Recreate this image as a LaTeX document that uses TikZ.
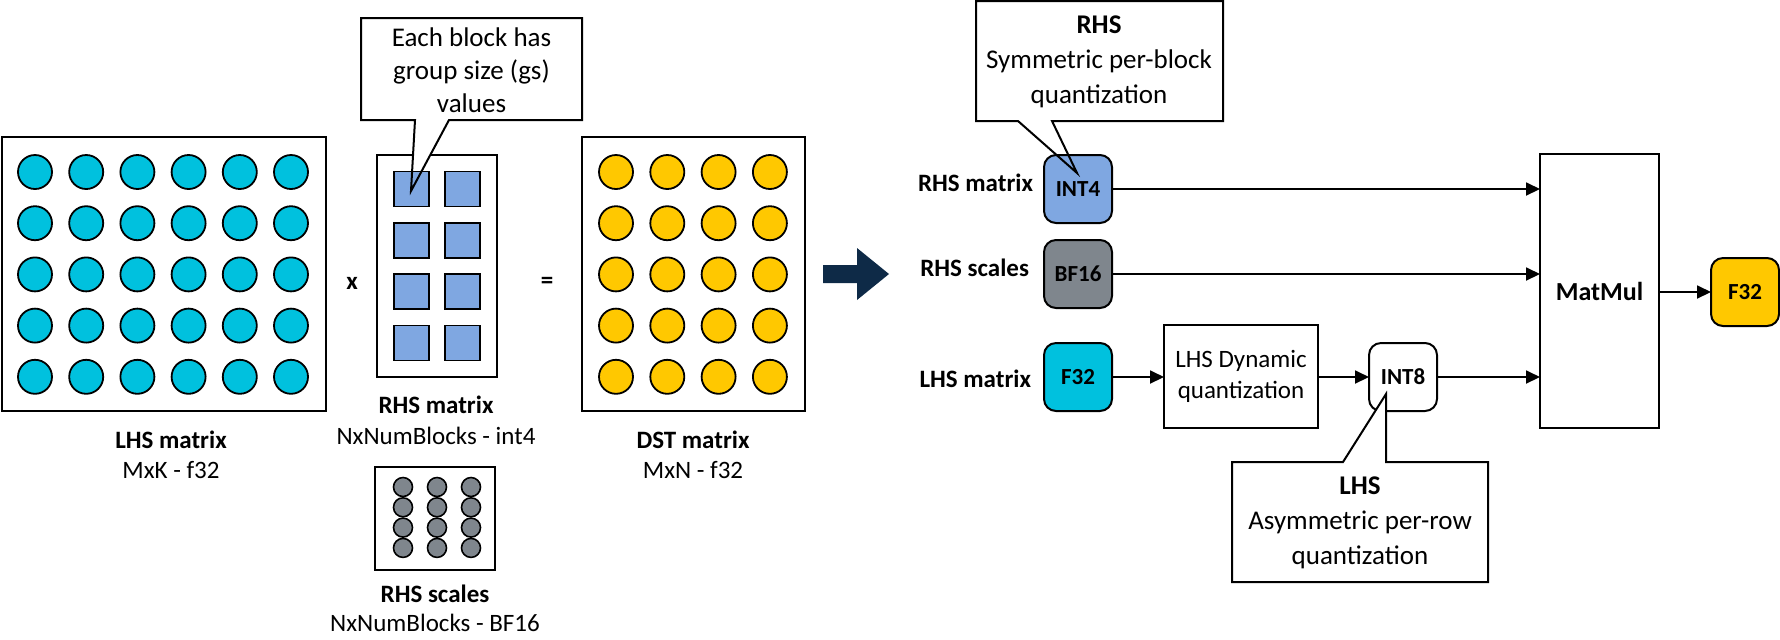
\documentclass[tikz,border=0pt]{standalone}
\usepackage{fontspec}
\setmainfont{Carlito}
\usetikzlibrary{arrows.meta,calc}
\definecolor{cyanc}{HTML}{00C1DE}
\definecolor{bluec}{HTML}{7FA7E1}
\definecolor{yellowc}{HTML}{FFC800}
\definecolor{grayc}{HTML}{7F868D}
\definecolor{navyc}{HTML}{0E2A47}
\begin{document}
\begin{tikzpicture}[x=0.5pt,y=-0.5pt,
  every node/.style={inner sep=0pt, outer sep=0pt},
  frame/.style={draw, line width=1pt, fill=white},
  lcirc/.style={circle, draw, line width=0.9pt, fill=cyanc, minimum size=17pt},
  dcirc/.style={circle, draw, line width=0.9pt, fill=yellowc, minimum size=17pt},
  sq/.style={draw, line width=0.9pt, fill=bluec, minimum size=17.5pt},
  scirc/.style={circle, draw, line width=0.8pt, fill=grayc, minimum size=9.5pt},
  lab/.style={font=\fontsize{12.5}{15}\selectfont},
  blab/.style={font=\bfseries\fontsize{12.5}{15}\selectfont},
  dtype/.style={draw, line width=1pt, rounded corners=6pt, minimum size=34pt, font=\bfseries\fontsize{11.5}{14}\selectfont},
  conn/.style={line width=0.9pt, -{Triangle[length=7pt,width=6.5pt]}},
  callout/.style={draw, line width=1pt, line join=miter},
  note/.style={align=center, font=\fontsize{13.5}{17.5}\selectfont},
]
\useasboundingbox (0,0) rectangle (1780,639);

% ---------- LHS matrix ----------
\node[frame, minimum width=162pt, minimum height=137pt] (lhs) at (164,274) {};
\foreach \i in {0,...,5}{\foreach \j in {0,...,4}{
  \node[lcirc] (l\i\j) at ({35+51.2*\i},{172+51.2*\j}) {};}}
\node[blab] (lhsname) at (171,440) {LHS matrix};
\node[lab] (lhsdim) at (171,470) {MxK - f32};

\node[blab] (times) at (352,283) {x};

% ---------- RHS matrix ----------
\node[frame, minimum width=60pt, minimum height=111pt] (rhs) at (437,266) {};
\fill[white] (361,18) -- (582,18) -- (582,120) -- (449,120) -- (411,191) -- (415,120) -- (361,120) -- cycle;
\foreach \i in {0,1}{\foreach \j in {0,...,3}{
  \node[sq] (s\i\j) at ({411.5+51*\i},{189+51.3*\j}) {};}}
\draw[callout] (361,18) -- (582,18) -- (582,120) -- (449,120) -- (411,191) -- (415,120) -- (361,120) -- cycle;
\node[note, font=\fontsize{13.5}{16.5}\selectfont] (note1) at (471.5,70) {Each block has\\group size (gs)\\values};
\node[blab] (rhsname) at (436,405) {RHS matrix};
\node[lab] (rhsdim) at (436,436) {NxNumBlocks - int4};

% ---------- RHS scales ----------
\node[frame, minimum width=60pt, minimum height=51.5pt] (scl) at (435,518.5) {};
\foreach \i in {0,1,2}{\foreach \j in {0,...,3}{
  \node[scirc] (c\i\j) at ({403+34*\i},{487+20.3*\j}) {};}}
\node[blab] (sclname) at (435,594) {RHS scales};
\node[lab] (scldim) at (435,623) {NxNumBlocks - BF16};

\node[blab] (equals) at (547,283) {=};

% ---------- DST matrix ----------
\node[frame, minimum width=111.5pt, minimum height=137pt] (dst) at (693.5,274) {};
\foreach \i in {0,...,3}{\foreach \j in {0,...,4}{
  \node[dcirc] (d\i\j) at ({616+51.3*\i},{172+51.2*\j}) {};}}
\node[blab] (dstname) at (693,440) {DST matrix};
\node[lab] (dstdim) at (693,470) {MxN - f32};

% ---------- big arrow ----------
\fill[navyc] (823,265) -- (857,265) -- (857,248) -- (889,274) -- (857,300) -- (857,283) -- (823,283) -- cycle;

% ---------- right flow ----------
\node[blab, anchor=east] (rmlab) at (1033,183) {RHS matrix};
\node[blab, anchor=east] (rslab) at (1029,268) {RHS scales};
\node[blab, anchor=east] (lmlab) at (1031,379) {LHS matrix};

\fill[white] (976,1) -- (1223,1) -- (1223,121) -- (1052,121) -- (1077,173) -- (1018,121) -- (976,121) -- cycle;
\node[dtype, fill=bluec] (int4) at (1078,189) {INT4};
\draw[callout] (976,1) -- (1223,1) -- (1223,121) -- (1052,121) -- (1077,173) -- (1018,121) -- (976,121) -- cycle;
\node[note] (note2) at (1099,62) {\textbf{RHS}\\Symmetric per-block\\quantization};

\node[dtype, fill=grayc] (bf16) at (1078,274) {BF16};
\node[dtype, fill=cyanc] (f32in) at (1078,377) {F32};
\node[draw, line width=1pt, minimum width=77pt, minimum height=51.5pt, align=center,
      font=\fontsize{12.5}{15.5}\selectfont] (dyn) at (1241,376.5) {LHS Dynamic\\quantization};
\node[dtype, fill=white] (int8) at (1403,377) {INT8};
\node[draw, line width=1pt, minimum width=59.5pt, minimum height=137pt,
      font=\bfseries\fontsize{13}{16}\selectfont] (mm) at (1599.5,291) {MatMul};
\node[dtype, fill=yellowc] (out) at (1745,292) {F32};

\draw[callout, fill=white] (1232,462) -- (1343,462) -- (1386,394) -- (1386,462) -- (1488,462) -- (1488,582) -- (1232,582) -- cycle;
\node[note] (note3) at (1360,523) {\textbf{LHS}\\Asymmetric per-row\\quantization};

\draw[conn] (int4.east) -- (int4.east -| mm.west);
\draw[conn] (bf16.east) -- (bf16.east -| mm.west);
\draw[conn] (f32in.east) -- (f32in.east -| dyn.west);
\draw[conn] (dyn.east |- int8.west) -- (int8.west);
\draw[conn] (int8.east) -- (int8.east -| mm.west);
\draw[conn] (mm.east |- out.west) -- (out.west);
\end{tikzpicture}
\end{document}
